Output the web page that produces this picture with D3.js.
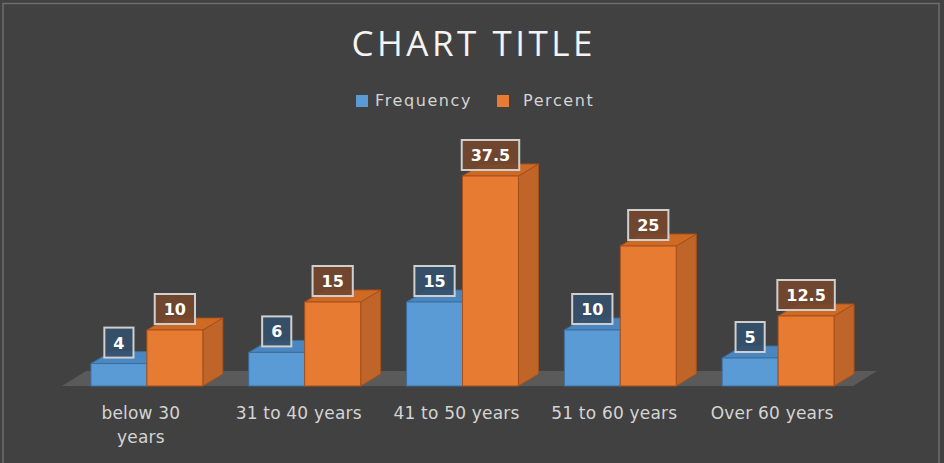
<!DOCTYPE html>
<html>
<head>
<meta charset="utf-8">
<script src="https://cdn.jsdelivr.net/npm/d3@7"></script>
<style>
  body { margin: 0; background: #414141; }
</style>
</head>
<body>
<div id="chart"></div>
<script>
// chart data
let categories = ["below 30 years", "31 to 40 years", "41 to 50 years", "51 to 60 years", "Over 60 years"]
let tickLabels = ["below 30\nyears", "31 to 40 years", "41 to 50 years", "51 to 60 years", "Over 60 years"]
let seriesNames = ["Frequency", "Percent"]
let frequency = [4, 6, 15, 10, 5]
let percent = [10, 15, 37.5, 25, 12.5]

let W = 944, H = 463
let floorY = 386
let dx = 20, dy = -12   // fake 3d depth

let colors = {
  Frequency: {front: "#5b9bd5", top: "#4a86bf", side: "#3e73a6", edge: "#3d6e9e", label: "#35506c"},
  Percent:   {front: "#e67b31", top: "#cf6a24", side: "#c0652a", edge: "#a5501a", label: "#74472e"}
}

let svg = d3.select("#chart")
  .append("svg")
  .attr("width", W)
  .attr("height", H)

svg.append("rect")
  .attr("width", W).attr("height", H)
  .attr("fill", "#414141")

//outer frame
svg.append("rect")
  .attr("x", 3).attr("y", 3.5)
  .attr("width", 936).attr("height", 470)
  .attr("fill", "none")
  .attr("stroke", "#6e6e6e")
  .attr("stroke-width", 1.5)

let x = d3.scaleBand()
  .domain(categories)
  .range([68, 857])

let x1 = d3.scaleBand()
  .domain(seriesNames)
  .range([0, x.bandwidth()])
  .paddingOuter(0.41)

let y = d3.scaleLinear()
  .domain([0, 40])
  .range([floorY, floorY - 224])

// title
svg.append("text")
  .attr("x", 472).attr("y", 56)
  .attr("text-anchor", "middle")
  .attr("font-family", "Open Sans")
  .attr("font-size", 35)
  .attr("fill", "#f4f4f4")
  .attr("textLength", 241)
  .attr("lengthAdjust", "spacing")
  .text("CHART TITLE")

// legend
let legend = svg.append("g")
let legendX = [356, 497]
seriesNames.forEach((s, i) => {
  legend.append("rect")
    .attr("x", legendX[i]).attr("y", 95)
    .attr("width", 12).attr("height", 12)
    .attr("fill", colors[s].front)
  legend.append("text")
    .attr("x", legendX[i] + (i == 0 ? 19 : 26)).attr("y", 106)
    .attr("font-family", "DejaVu Sans")
    .attr("font-size", 16)
    .attr("letter-spacing", 1.6)
    .attr("fill", "#d4d4d4")
    .text(s)
})

// floor
let fx0 = 62, fx1 = 853, fdx = 24, fdy = -15
svg.append("path")
  .attr("d", `M${fx0},${floorY} L${fx1},${floorY} L${fx1 + fdx},${floorY + fdy} L${fx0 + fdx},${floorY + fdy} Z`)
  .attr("fill", "#5a5a5a")

// bars
let rows = []
categories.forEach((c, i) => {
  rows.push({cat: c, series: "Frequency", value: frequency[i]})
  rows.push({cat: c, series: "Percent", value: percent[i]})
})

let bars = svg.append("g").selectAll("g")
  .data(rows)
  .enter()
  .append("g")

bars.each(function(d) {
  let g = d3.select(this)
  let x0 = x(d.cat) + x1(d.series)
  let w = x1.bandwidth()
  let yt = y(d.value)
  let c = colors[d.series]
  //side
  g.append("path")
    .attr("d", `M${x0 + w},${floorY} L${x0 + w + dx},${floorY + dy} L${x0 + w + dx},${yt + dy} L${x0 + w},${yt} Z`)
    .attr("fill", c.side).attr("stroke", c.edge).attr("stroke-width", 1)
  //top
  g.append("path")
    .attr("d", `M${x0},${yt} L${x0 + dx},${yt + dy} L${x0 + w + dx},${yt + dy} L${x0 + w},${yt} Z`)
    .attr("fill", c.top).attr("stroke", c.edge).attr("stroke-width", 1)
  //front
  g.append("rect")
    .attr("x", x0).attr("y", yt)
    .attr("width", w).attr("height", floorY - yt)
    .attr("fill", c.front).attr("stroke", c.edge).attr("stroke-width", 1)
})

// data labels
bars.each(function(d) {
  let g = d3.select(this)
  let cx = x(d.cat) + x1(d.series) + x1.bandwidth() / 2
  let cy = y(d.value) - 21
  let box = g.append("rect")
  let t = g.append("text")
    .attr("x", cx).attr("y", cy + 6)
    .attr("text-anchor", "middle")
    .attr("font-family", "DejaVu Sans")
    .attr("font-weight", "bold")
    .attr("font-size", 16)
    .attr("fill", "#ffffff")
    .text(d.value)
  let tw = t.node().getComputedTextLength()
  box.attr("x", cx - tw / 2 - 9).attr("y", cy - 15)
    .attr("width", tw + 18).attr("height", 30)
    .attr("fill", colors[d.series].label)
    .attr("fill-opacity", 0.92)
    .attr("stroke", "#cfcfcf")
    .attr("stroke-width", 2)
})

// category labels
categories.forEach((c, i) => {
  let lines = tickLabels[i].split("\n")
  let t = svg.append("text")
    .attr("text-anchor", "middle")
    .attr("font-family", "DejaVu Sans")
    .attr("font-size", 17)
    .attr("letter-spacing", 0.2)
    .attr("fill", "#d4d4d4")
  lines.forEach((l, j) => {
    t.append("tspan")
      .attr("x", x(c) + x.bandwidth() / 2 - 6)
      .attr("y", 419 + j * 24)
      .text(l)
  })
})
</script>
</body>
</html>
